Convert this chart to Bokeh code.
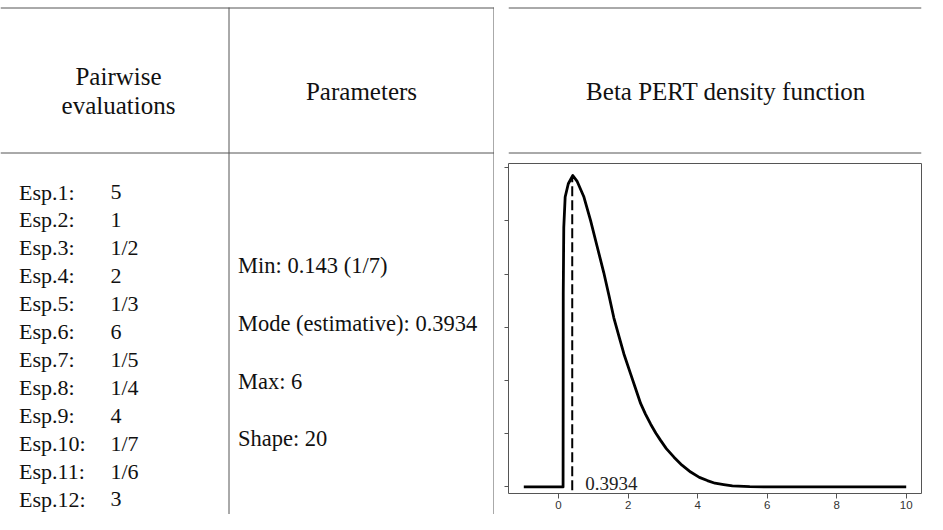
from bokeh.plotting import figure
from bokeh.layouts import row, column
from bokeh.models import Range1d, FixedTicker, ColumnDataSource, Label, CustomJSTickFormatter
from bokeh.core.properties import value
from bokeh.embed import file_html
from bokeh.resources import INLINE

# ---------------- data ----------------
header_col1 = ["Pairwise", "evaluations"]
header_col2 = "Parameters"
header_col3 = "Beta PERT density function"

experts = ["Esp.1:", "Esp.2:", "Esp.3:", "Esp.4:", "Esp.5:", "Esp.6:",
           "Esp.7:", "Esp.8:", "Esp.9:", "Esp.10:", "Esp.11:", "Esp.12:"]
evaluations = ["5", "1", "1/2", "2", "1/3", "6", "1/5", "1/4", "4", "1/7", "1/6", "3"]

parameters = ["Min: 0.143 (1/7)", "Mode (estimative): 0.3934", "Max: 6", "Shape: 20"]

mode_value = 0.3934
mode_line_y = [-0.006, 0.582]

curve_x = [-1.0, 0.13, 0.135, 0.15, 0.19, 0.28, 0.41, 0.53, 0.73, 0.92, 1.11, 1.30,
           1.45, 1.59, 1.75, 1.88, 2.07, 2.20, 2.36, 2.50, 2.65, 2.80, 2.93, 3.10,
           3.32, 3.55, 3.80, 4.05, 4.28, 4.50, 4.75, 5.00, 5.50, 6.00, 10.0]
curve_y = [0.0, 0.0, 0.364, 0.488, 0.545, 0.570, 0.5855, 0.575, 0.545, 0.501, 0.452, 0.403,
           0.360, 0.318, 0.280, 0.250, 0.213, 0.188, 0.157, 0.137, 0.118, 0.101, 0.088, 0.072,
           0.056, 0.041, 0.028, 0.018, 0.012, 0.007, 0.0045, 0.002, 0.0005, 0.0, 0.0]

x_ticks = [0, 2, 4, 6, 8, 10]
y_ticks = [0, 0.1, 0.2, 0.3, 0.4, 0.5, 0.6]

# ---------------- styles ----------------
SERIF = value("Liberation Serif")
BODY = "22px"
HEAD = "25px"
LINE = "#555555"
TXT = "#111111"

W, H = 927, 514
SPLIT_X = 494
HEAD_H = 158


def blank_fig(w, h, xr, yr):
    f = figure(width=w, height=h, x_range=Range1d(*xr), y_range=Range1d(*yr),
               x_axis_type=None, y_axis_type=None, output_backend="svg",
               toolbar_location=None, min_border=0)
    f.outline_line_color = None
    f.background_fill_color = "white"
    f.border_fill_color = "white"
    return f


# ---------------- left part: columns 1 and 2 (pixel coordinates) ----------------
left = blank_fig(SPLIT_X, H, (0, SPLIT_X), (H, 0))
left.segment(x0=[0, 0, 228.5, 493.5], y0=[7.5, 152.5, 7, 7],
             x1=[SPLIT_X, SPLIT_X, 228.5, 493.5], y1=[7.5, 152.5, H, H],
             line_color=LINE, line_width=1)

left.text(x=[118, 118], y=[76, 105], text=header_col1, text_font=SERIF,
          text_font_size=HEAD, text_align="center", text_baseline="alphabetic", text_color=TXT)
left.text(x=[361], y=[91], text=[header_col2], text_font=SERIF,
          text_font_size=HEAD, text_align="center", text_baseline="alphabetic", text_color=TXT)

row_y = [191.5 + 27.95 * i for i in range(len(experts))]
src_rows = ColumnDataSource(dict(xl=[18.5] * len(experts), xv=[110] * len(experts),
                                 y=row_y, lab=experts, val=evaluations))
left.text(x="xl", y="y", text="lab", source=src_rows, text_font=SERIF, text_font_size=BODY,
          text_align="left", text_baseline="alphabetic", text_color=TXT)
left.text(x="xv", y="y", text="val", source=src_rows, text_font=SERIF, text_font_size=BODY,
          text_align="left", text_baseline="alphabetic", text_color=TXT)

par_y = [265.2 + 57.7 * i for i in range(len(parameters))]
left.text(x=[237.5] * len(parameters), y=par_y, text=parameters, text_font=SERIF,
          text_font_size="22.5px", text_align="left", text_baseline="alphabetic", text_color=TXT)

# ---------------- right header cell ----------------
head = blank_fig(W - SPLIT_X, HEAD_H, (SPLIT_X, W), (HEAD_H, 0))
head.segment(x0=[SPLIT_X, SPLIT_X], y0=[7.5, 152.5], x1=[W, W], y1=[7.5, 152.5],
             line_color=LINE, line_width=1)
head.text(x=[722], y=[91], text=[header_col3], text_font=SERIF, text_font_size=HEAD,
          text_align="center", text_baseline="alphabetic", text_color=TXT)

# ---------------- density plot ----------------
dens = figure(width=W - SPLIT_X, height=H - HEAD_H, x_range=Range1d(-1.44, 10.44),
              y_range=Range1d(-0.0123, 0.608), output_backend="svg",
              toolbar_location=None, min_border_left=14, min_border_right=6,
              min_border_top=5, min_border_bottom=21)
dens.grid.visible = False
dens.background_fill_color = "white"
dens.border_fill_color = "white"
dens.outline_line_color = LINE
dens.outline_line_width = 1

dens.xaxis.ticker = FixedTicker(ticks=x_ticks, minor_ticks=[])
dens.xaxis.axis_line_color = None
dens.xaxis.major_tick_line_color = LINE
dens.xaxis.major_tick_out = 5
dens.xaxis.major_tick_in = 0
dens.xaxis.minor_tick_line_color = None
dens.xaxis.major_label_standoff = 2
dens.xaxis.major_label_text_font = "Liberation Sans"
dens.xaxis.major_label_text_font_size = "11.5px"
dens.xaxis.major_label_text_color = "#333333"

dens.yaxis.ticker = FixedTicker(ticks=y_ticks, minor_ticks=[])
dens.yaxis.formatter = CustomJSTickFormatter(code="return ''")
dens.yaxis.axis_line_color = None
dens.yaxis.major_tick_line_color = LINE
dens.yaxis.major_tick_out = 4
dens.yaxis.major_tick_in = 0
dens.yaxis.minor_tick_line_color = None
dens.yaxis.major_label_standoff = 0
dens.yaxis.major_label_text_font_size = "1px"

dens.line(curve_x, curve_y, line_color="black", line_width=2.8, line_join="round")
dens.line([mode_value, mode_value], mode_line_y, line_color="black", line_width=2,
          line_dash="10 4")
dens.add_layout(Label(x=mode_value, y=0.007, x_offset=13, text=f"{mode_value}",
                      text_font="Liberation Serif", text_font_size="19px",
                      text_baseline="alphabetic", text_align="left", text_color="#222222"))

p = row(left, column(head, dens))

open("out.html", "w").write(file_html(p, INLINE))
